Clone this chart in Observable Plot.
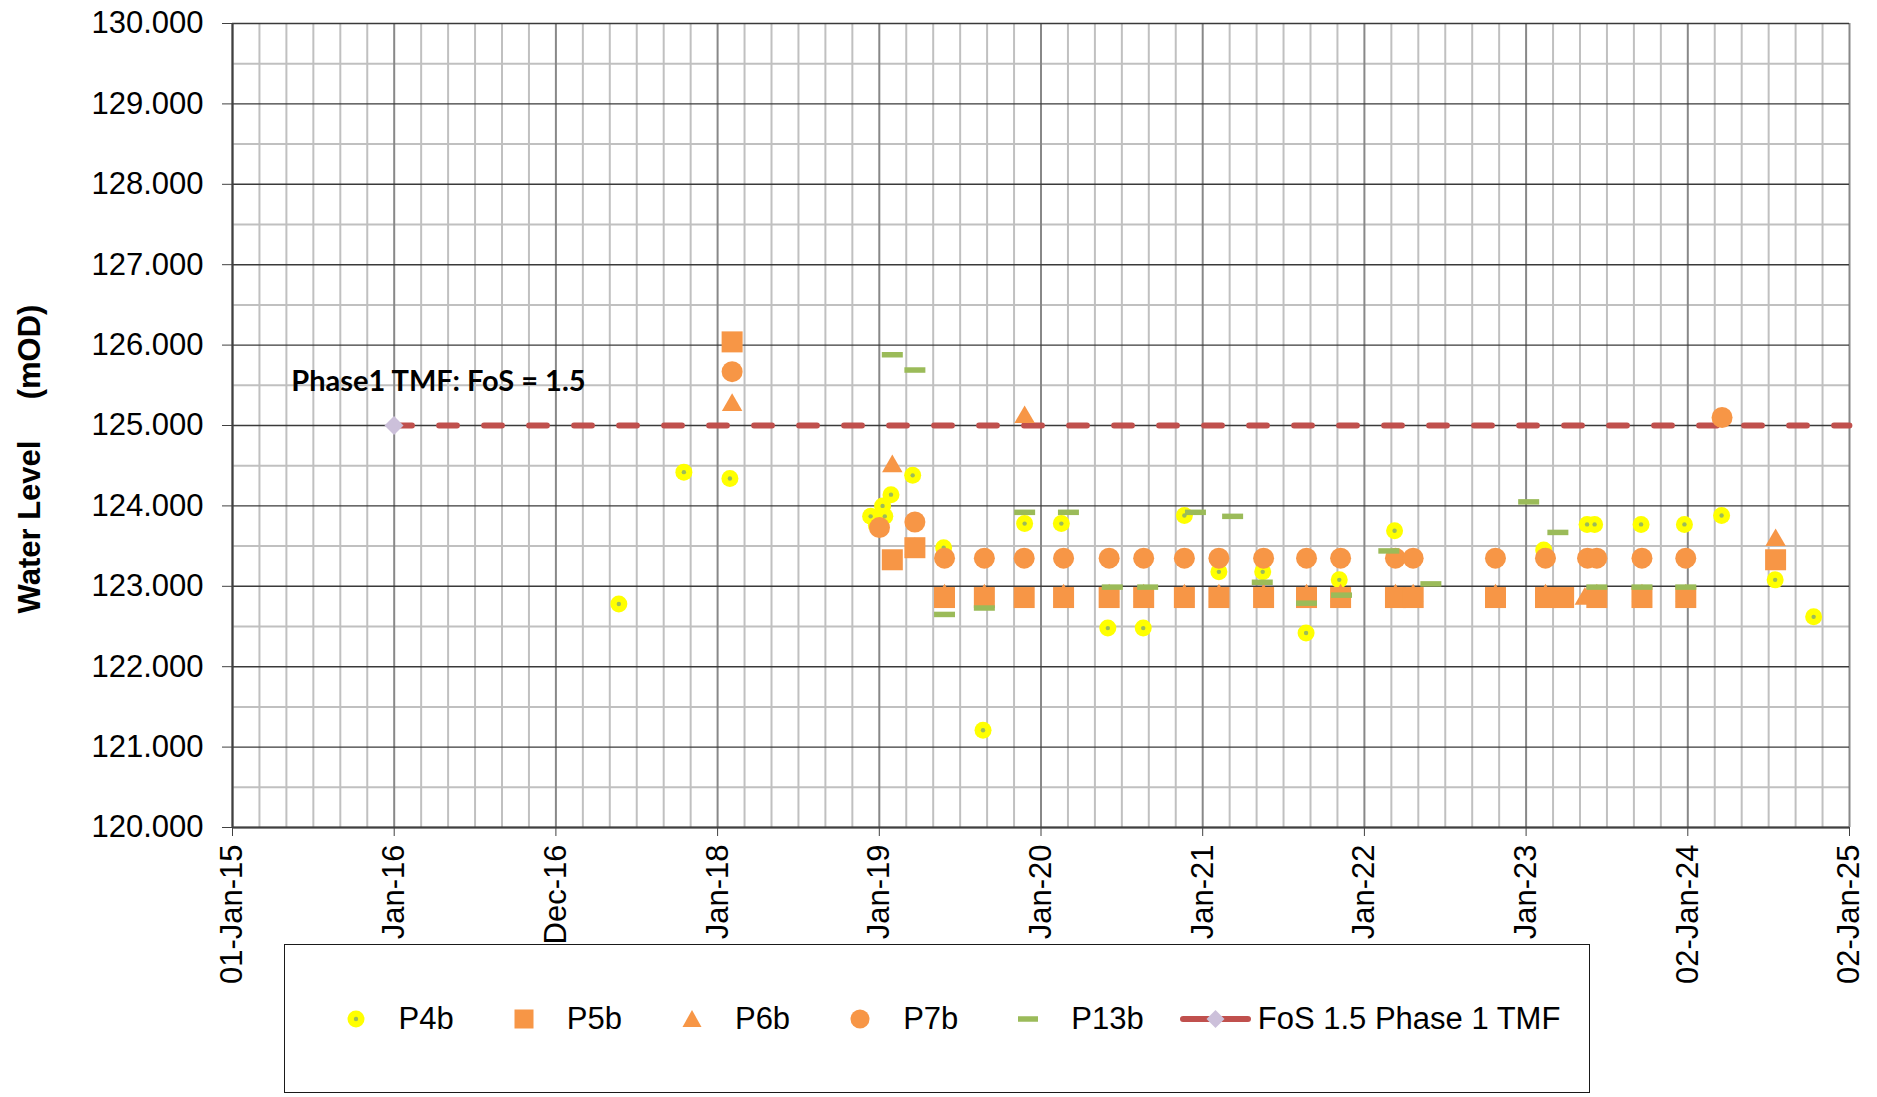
<!DOCTYPE html>
<html>
<head>
<meta charset="utf-8">
<script src="https://cdn.jsdelivr.net/npm/d3@7"></script>
<script src="https://cdn.jsdelivr.net/npm/@observablehq/plot@0.6"></script>
<style>
  html, body { margin: 0; padding: 0; background: #fff; overflow: hidden; }
  #wrap { position: relative; width: 1877px; height: 1097px; font-family: "Liberation Sans", Arial, sans-serif; }
  #legend { position: absolute; left: 284px; top: 944px; width: 1306px; height: 149px; box-sizing: border-box;
    border: 1.5px solid #1a1a1a; background: #fff; display: flex; align-items: center; justify-content: center;
    padding-left: 32px; font-size: 31px; color: #000; font-family: "Liberation Sans", Arial, sans-serif; }
  .item { display: flex; align-items: center; }
  .item svg { display: block; }
</style>
</head>
<body>
<div id="wrap"><div id="chart"></div><div id="legend"></div></div>
<script>
// ---------- data ----------
const tickLabels = ["01-Jan-15","Jan-16","Dec-16","Jan-18","Jan-19","Jan-20","Jan-21","Jan-22","Jan-23","02-Jan-24","02-Jan-25"];
const yTickValues = [120,121,122,123,124,125,126,127,128,129,130];
const axisStart = "2015-01-01";
const axisEnd = "2025-01-02";

const p4bDates = ["2017-05-23","2017-10-17","2018-01-29","2018-12-13","2018-12-26","2019-01-09","2019-01-14","2019-01-28","2019-03-18","2019-05-27","2019-08-24","2019-11-26","2020-02-17","2020-06-01","2020-08-20","2020-11-21","2021-02-07","2021-05-17","2021-08-23","2021-11-06","2022-03-11","2023-02-11","2023-05-20","2023-06-06","2023-09-19","2023-12-26","2024-03-19","2024-07-18","2024-10-13"];
const p4bLevels = [122.78,124.42,124.34,123.87,123.76,124.00,123.87,124.14,124.38,123.48,121.21,123.78,123.78,122.48,122.48,123.88,123.18,123.18,122.42,123.08,123.69,123.45,123.77,123.77,123.77,123.77,123.88,123.08,122.62];

const p5bDates = ["2018-02-03","2019-01-31","2019-03-23","2019-05-29","2019-08-27","2019-11-25","2020-02-22","2020-06-04","2020-08-21","2020-11-21","2021-02-07","2021-05-19","2021-08-24","2021-11-09","2022-03-13","2022-04-22","2022-10-25","2023-02-15","2023-03-28","2023-06-11","2023-09-21","2023-12-29","2024-07-19"];
const p5bLevels = [126.04,123.33,123.48,122.86,122.86,122.86,122.86,122.86,122.86,122.86,122.86,122.86,122.86,122.86,122.86,122.86,122.86,122.86,122.86,122.86,122.86,122.86,123.33];

const p6bDates = ["2018-02-03","2019-01-31","2019-03-23","2019-05-29","2019-08-27","2019-11-26","2020-02-22","2020-06-04","2020-08-21","2020-11-21","2021-02-07","2021-05-19","2021-08-24","2021-11-09","2022-03-13","2022-04-22","2022-10-25","2023-02-15","2023-05-15","2023-06-11","2023-09-21","2023-12-29","2024-07-19"];
const p6bLevels = [125.29,124.53,123.50,122.92,122.92,125.14,122.92,122.92,122.92,122.92,122.92,122.92,122.92,122.92,122.92,122.92,122.92,122.92,122.88,122.92,122.92,122.92,123.61];

const p7bDates = ["2018-02-03","2019-01-02","2019-03-23","2019-05-29","2019-08-27","2019-11-25","2020-02-22","2020-06-04","2020-08-21","2020-11-21","2021-02-07","2021-05-19","2021-08-24","2021-11-09","2022-03-13","2022-04-22","2022-10-25","2023-02-15","2023-05-21","2023-06-11","2023-09-21","2023-12-29","2024-03-20"];
const p7bLevels = [125.67,123.73,123.80,123.35,123.35,123.35,123.35,123.35,123.35,123.35,123.35,123.35,123.35,123.35,123.35,123.35,123.35,123.35,123.35,123.35,123.35,123.35,125.10];

const p13bDates = ["2019-01-31","2019-03-23","2019-05-29","2019-08-27","2019-11-26","2020-03-04","2020-06-11","2020-08-30","2020-12-16","2021-03-10","2021-05-16","2021-08-24","2021-11-11","2022-02-26","2022-06-01","2023-01-08","2023-03-15","2023-06-11","2023-09-21","2023-12-29"];
const p13bLevels = [125.88,125.69,122.65,122.73,123.92,123.92,122.99,122.99,123.92,123.87,123.05,122.79,122.89,123.44,123.03,124.05,123.67,122.99,122.99,122.99];

const fosDates = ["2016-01-01","2025-01-02"];
const fosLevels = [125, 125];

const annotationText = "Phase1 TMF: FoS = 1.5";
const annotationDate = "2015-05-14";
const annotationLevel = 125.55;

const seriesNames = ["P4b","P5b","P6b","P7b","P13b","FoS 1.5 Phase 1 TMF"];

// ---------- build ----------
const parse = d3.utcParse("%Y-%m-%d");
const rows = (dates, levels) => dates.map((d, i) => ({date: parse(d), level: levels[i]}));
const p4b = rows(p4bDates, p4bLevels);
const p5b = rows(p5bDates, p5bLevels);
const p6b = rows(p6bDates, p6bLevels);
const p7b = rows(p7bDates, p7bLevels);
const p13b = rows(p13bDates, p13bLevels);
const fos = rows(fosDates, fosLevels);

const start = parse(axisStart), end = parse(axisEnd);
const span = end - start;
const majorX = tickLabels.map((_, i) => new Date(+start + i * span / 10));
const minorX = d3.range(61).filter(i => i % 6 !== 0).map(i => new Date(+start + i * span / 60));
const minorY = yTickValues.slice(0, -1).map(v => v + 0.5);
const labelOf = new Map(majorX.map((d, i) => [+d, tickLabels[i]]));

const ORANGE = "#f79646", GREEN = "#9bbb59", YELLOW = "#ffff00", RED = "#c0504d", LAV = "#ccc0da";

const triUp = {draw(ctx, size) {
  const s = Math.sqrt(size * 4 / Math.sqrt(3)); const h = s * Math.sqrt(3) / 2;
  ctx.moveTo(0, -h / 2); ctx.lineTo(s / 2, h / 2); ctx.lineTo(-s / 2, h / 2); ctx.closePath();
}};
const dashSym = {draw(ctx, size) {
  const r = Math.sqrt(size / Math.PI); const w = 2 * r, h = 5.5;
  ctx.rect(-w / 2, -h / 2, w, h);
}};
const diamondSym = {draw(ctx, size) {
  const r = Math.sqrt(size / Math.PI);
  ctx.moveTo(0, -r); ctx.lineTo(r, 0); ctx.lineTo(0, r); ctx.lineTo(-r, 0); ctx.closePath();
}};

const FONT = "'Liberation Sans', Arial, sans-serif";

const plot = Plot.plot({
  width: 1877, height: 1097,
  marginTop: 23, marginRight: 28, marginBottom: 270, marginLeft: 232,
  x: {type: "utc", domain: [start, end]},
  y: {domain: [120, 130]},
  style: {fontFamily: FONT, fontSize: "31px", color: "#000", background: "#fff", overflow: "visible"},
  marks: [
    Plot.ruleX(minorX, {stroke: "#c0c0c0", strokeWidth: 2}),
    Plot.ruleY(minorY, {stroke: "#c0c0c0", strokeWidth: 2}),
    Plot.ruleX(majorX, {stroke: "#888888", strokeWidth: 2}),
    Plot.ruleY(yTickValues, {stroke: "#3a3a3a", strokeWidth: 1.4}),
    Plot.ruleX([start], {stroke: "#404040", strokeWidth: 2}),
    Plot.ruleY([120], {stroke: "#404040", strokeWidth: 2}),
    Plot.axisY({ticks: yTickValues, tickFormat: d3.format(".3f"), tickSize: 10, tickPadding: 19,
      fontSize: 31, label: null, stroke: "#404040", fill: "#000"}),
    Plot.axisX({ticks: majorX, tickFormat: d => labelOf.get(+d), tickRotate: -90, tickSize: 9, tickPadding: 8,
      fontSize: 31, label: null, stroke: "#404040", fill: "#000"}),
    Plot.line(fos, {x: "date", y: "level", stroke: RED, strokeWidth: 5.8, strokeDasharray: "18 27", strokeLinecap: "round"}),
    Plot.dot(fos.slice(0, 1), {x: "date", y: "level", symbol: diamondSym, r: 9.5, fill: LAV}),
    Plot.dot(p4b, {x: "date", y: "level", r: 8.5, fill: YELLOW}),
    Plot.dot(p4b, {x: "date", y: "level", r: 2.2, fill: GREEN}),
    Plot.dot(p6b, {x: "date", y: "level", symbol: triUp, r: 7.6, fill: ORANGE}),
    Plot.dot(p5b, {x: "date", y: "level", symbol: "square", r: 11.85, fill: ORANGE}),
    Plot.dot(p7b, {x: "date", y: "level", r: 10.5, fill: ORANGE}),
    Plot.dot(p13b, {x: "date", y: "level", symbol: dashSym, r: 10.5, fill: GREEN}),
    Plot.text([{date: parse(annotationDate), level: annotationLevel, label: annotationText}],
      {x: "date", y: "level", text: "label", textAnchor: "start", fontFamily: "Lato, 'Open Sans', sans-serif",
       fontWeight: "bold", fontSize: 29, fill: "#000"})
  ]
});
document.getElementById("chart").appendChild(plot);

// y axis title
const svg = d3.select(plot);
const titleG = svg.append("g").attr("font-family", FONT).attr("font-weight", "bold").attr("font-size", 31).attr("fill", "#000");
titleG.append("text").attr("transform", "translate(40,527) rotate(-90)").attr("text-anchor", "middle").text("Water Level");
titleG.append("text").attr("transform", "translate(40,352) rotate(-90)").attr("text-anchor", "middle").text("(mOD)");

// legend
const legend = d3.select("#legend");
function addItem(name, w, draw, textGap, after) {
  const it = legend.append("div").attr("class", "item").style("margin-right", after + "px");
  const s = it.append("svg").attr("width", w).attr("height", 24);
  draw(s);
  it.append("span").style("margin-left", textGap + "px").text(name);
}
addItem(seriesNames[0], 20, s => { s.append("circle").attr("cx", 10).attr("cy", 12).attr("r", 8.5).attr("fill", YELLOW);
  s.append("circle").attr("cx", 10).attr("cy", 12).attr("r", 2.2).attr("fill", GREEN); }, 33, 60);
addItem(seriesNames[1], 20, s => { s.append("rect").attr("x", 0.5).attr("y", 2.5).attr("width", 19).attr("height", 19).attr("fill", ORANGE); }, 33, 60);
addItem(seriesNames[2], 20, s => { s.append("path").attr("d", "M10,3L19.5,20L0.5,20Z").attr("fill", ORANGE); }, 33, 60);
addItem(seriesNames[3], 20, s => { s.append("circle").attr("cx", 10).attr("cy", 12).attr("r", 9.5).attr("fill", ORANGE); }, 33, 60);
addItem(seriesNames[4], 20, s => { s.append("rect").attr("x", 0).attr("y", 9.25).attr("width", 20).attr("height", 5.5).attr("fill", GREEN); }, 33, 36);
addItem(seriesNames[5], 71, s => {
  s.append("line").attr("x1", 3).attr("x2", 68).attr("y1", 12).attr("y2", 12).attr("stroke", RED).attr("stroke-width", 6).attr("stroke-linecap", "round");
  s.append("path").attr("d", "M35.5,3L44.5,12L35.5,21L26.5,12Z").attr("fill", LAV);
}, 7, 0);
</script>
</body>
</html>
